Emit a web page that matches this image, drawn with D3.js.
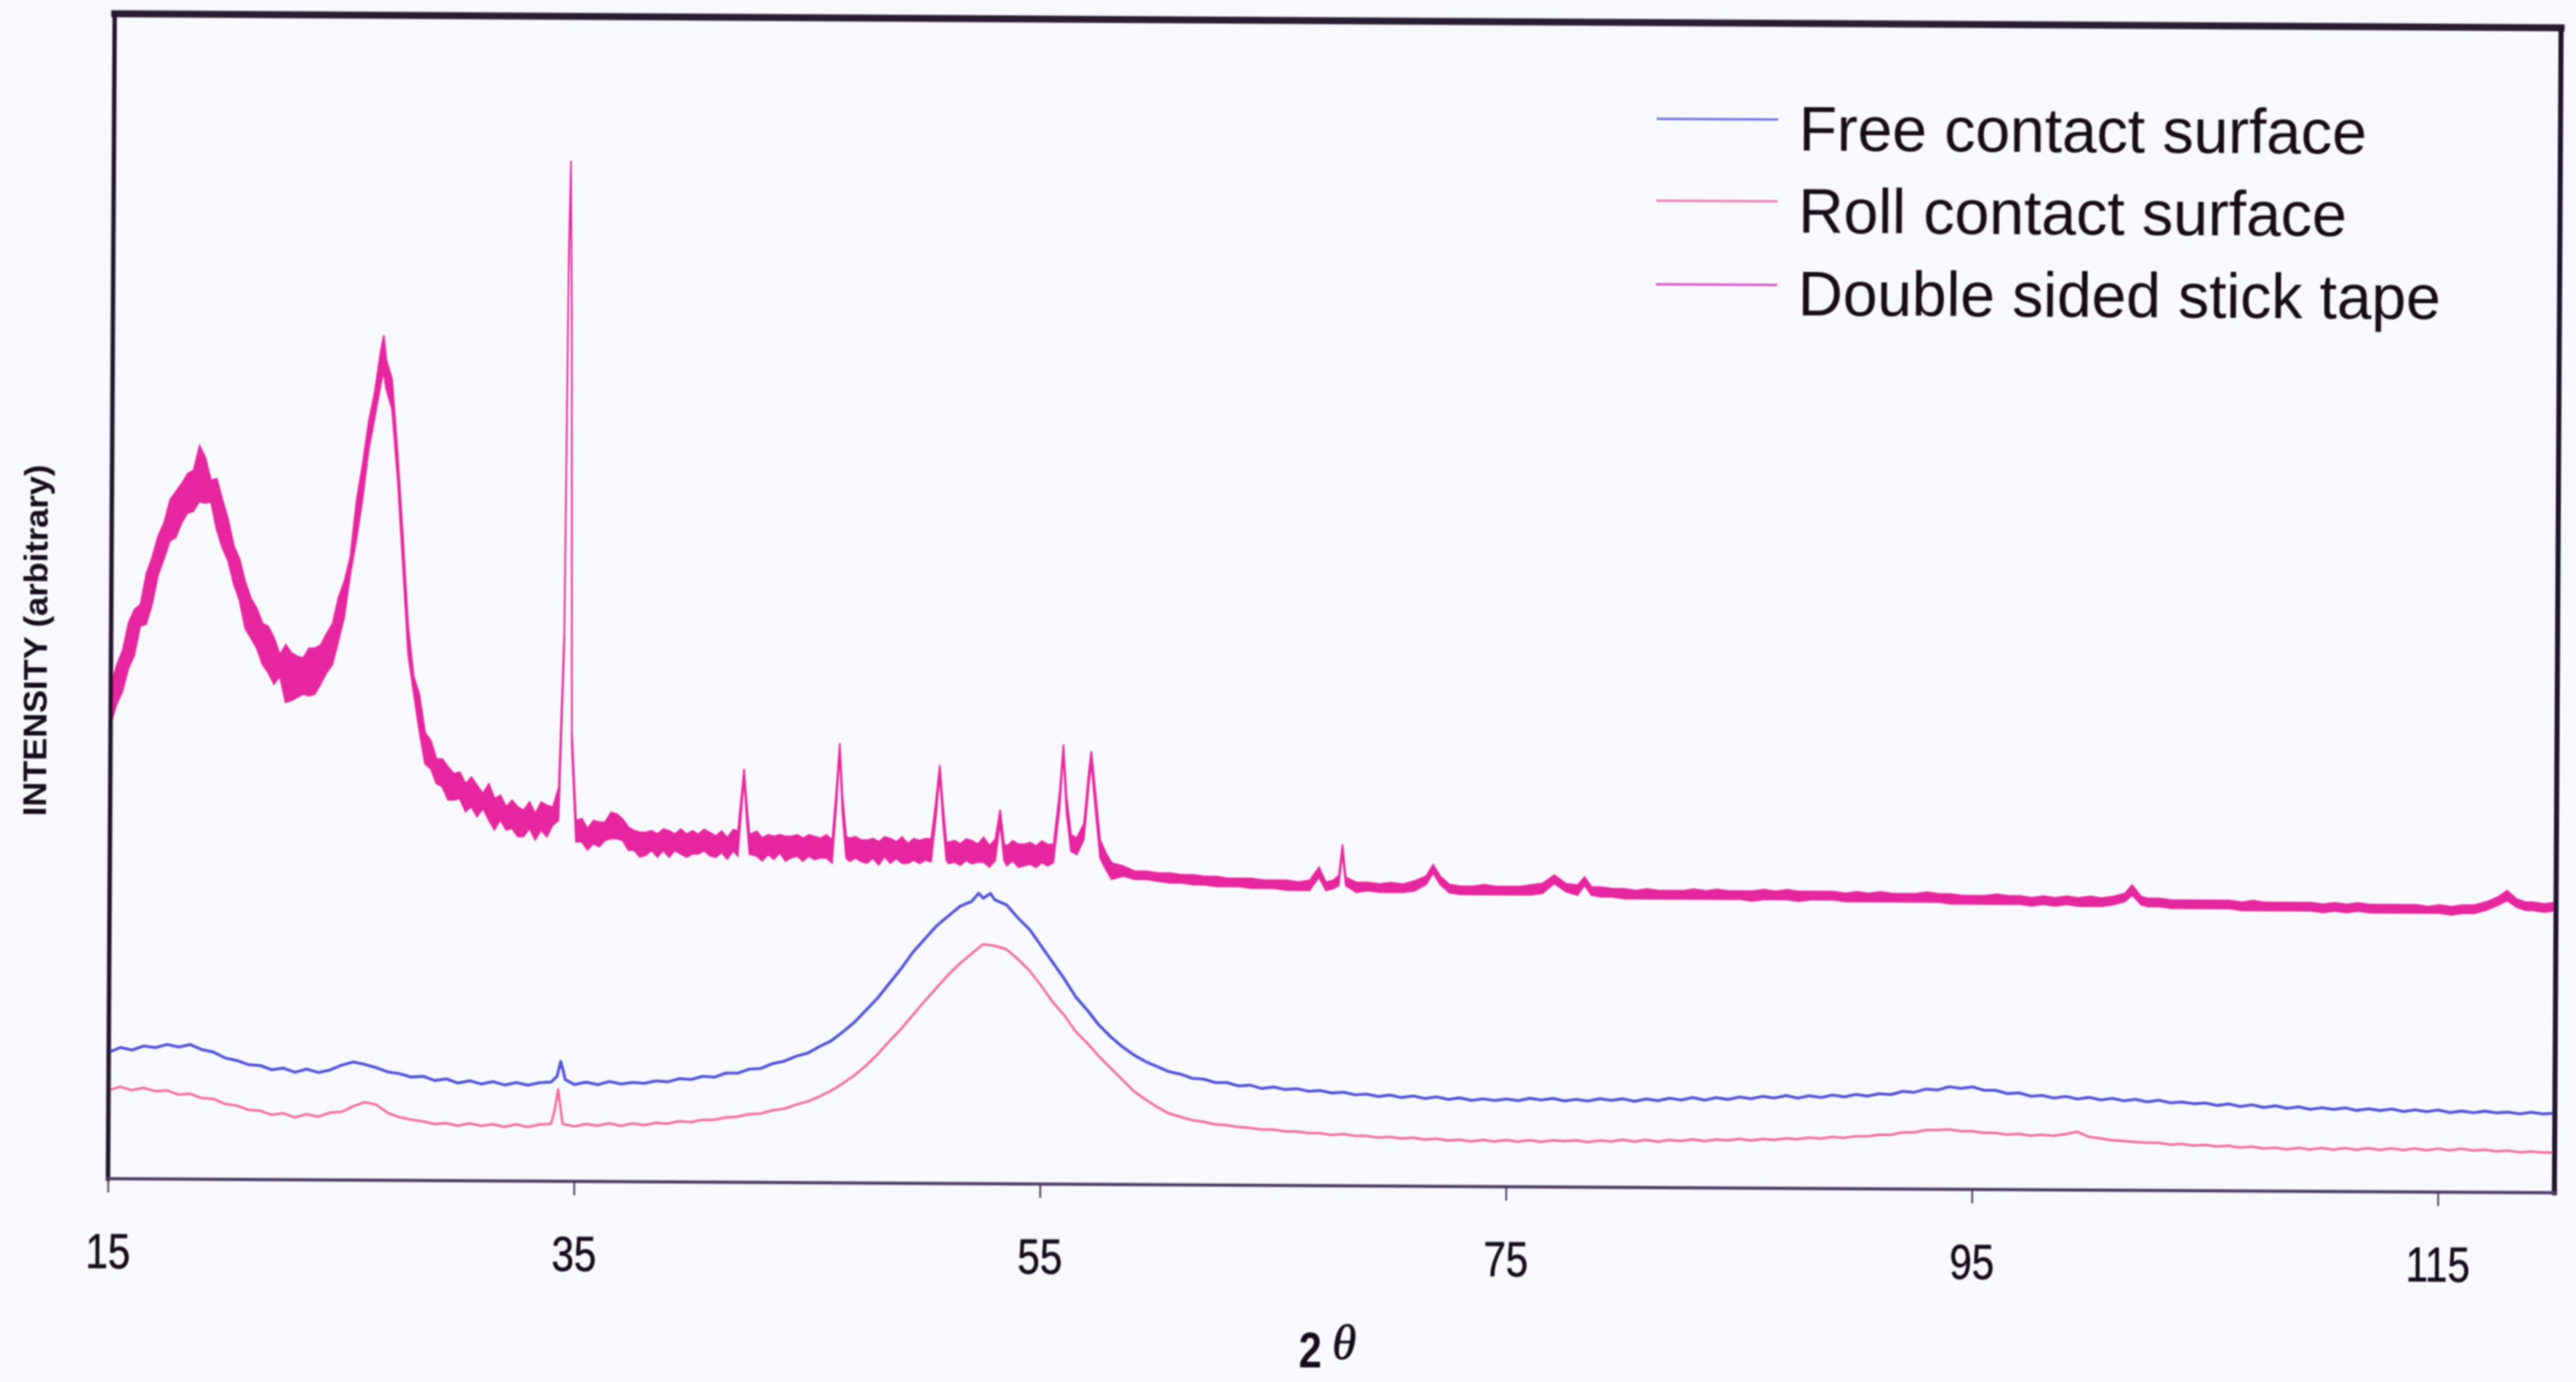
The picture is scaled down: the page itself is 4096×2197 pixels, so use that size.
<!DOCTYPE html>
<html>
<head>
<meta charset="utf-8">
<script src="https://cdn.jsdelivr.net/npm/d3@7/dist/d3.min.js"></script>
<style>
  html, body { margin: 0; padding: 0; background: #f7f9fd; }
  svg { display: block; }
</style>
</head>
<body>
<svg id="chart" width="4096" height="2197"></svg>
<script>
// ---- data -------------------------------------------------------------
const seriesNames = ["Free contact surface", "Roll contact surface", "Double sided stick tape"];

// 2-theta grid (degrees) used by the two contact-surface scans
const gridStart = 15;
const gridStep = 0.5;

// Free contact surface, intensity (arbitrary) on the 0.5 degree grid, 15 .. 120
const freeValues = [
  77, 80, 78.5, 81, 80, 82, 80.5, 82, 79, 77.5,
  74, 72.5, 70, 69.5, 67, 68, 65.5, 67.5, 65.5, 67,
  70, 72, 70.5, 68.5, 66, 65, 63, 63.5, 61, 62,
  59.5, 61, 59, 60.5, 58.5, 60, 58.5, 60, 60.5, 68,
  59, 60.5, 59, 61, 59.5, 60.5, 60, 61.5, 61, 63,
  62.5, 64.5, 64, 66.5, 66.5, 69, 69.5, 72.5, 74, 77,
  79, 83, 86.5, 92, 98, 105.5, 113, 122, 131, 141,
  149, 157, 163, 169, 172, 174, 173, 170, 162, 155,
  145, 135, 125, 114, 106, 97, 90, 84, 79, 75,
  72, 69, 67.5, 65, 64.5, 62.5, 62.5, 60.5, 61, 59,
  60, 58.5, 59, 57.5, 58, 56.5, 57, 55.5, 56, 54.5,
  55.5, 54, 55, 53.5, 54.5, 53, 54, 52.5, 53.5, 52.5,
  53.5, 52.5, 54, 53, 54, 52.5, 53.5, 52.5, 54, 53,
  54, 52.5, 54, 53, 54.5, 53.5, 55, 53.5, 55, 54,
  55.5, 54.5, 56, 55, 56.5, 55, 56.5, 55.5, 57, 56,
  57.5, 56.5, 58, 57.5, 59.5, 59, 61, 60.5, 62.5, 61.5,
  62.5, 60.5, 60.5, 58.5, 59, 57, 57.5, 56, 57, 55.5,
  56.5, 55, 56, 54.5, 55.5, 54, 55, 53.5, 54, 53,
  53.5, 52, 53, 51.5, 52.5, 51, 52, 50.5, 51.5, 50,
  51, 50, 51, 49.5, 50.5, 49.5, 50.5, 49, 50, 49,
  50, 48.5, 49.5, 48.5, 49.5, 48.5, 49, 48, 49, 48,
  48.5
];
// narrow features that fall between grid points [2-theta, intensity]
const freeExtra = [[34.25, 64], [34.4, 73], [34.6, 62], [52.3, 177], [52.8, 177]];

// Roll contact surface, intensity (arbitrary) on the 0.5 degree grid, 15 .. 120
const rollValues = [
  54, 56, 54, 55.5, 53.5, 54, 51.5, 52, 49.5, 49,
  46, 45, 42.5, 42, 39.5, 40.5, 38, 40, 38.5, 41,
  41.5, 45, 47.5, 46, 41, 38.5, 37, 36, 34.5, 35,
  33.5, 35, 33.5, 34.5, 33, 34.5, 33, 34.5, 35, 35,
  33.5, 35, 34, 35.5, 34, 35.5, 34.5, 36, 35.5, 37,
  36.5, 38, 38, 39.5, 40, 41.5, 42, 44, 45, 47.5,
  49.5, 52.5, 56, 60.5, 65.5, 71.5, 78.5, 86.5, 94, 102.5,
  111, 119, 127, 134, 140, 146, 145, 143, 137, 130,
  121, 111, 103, 93, 86, 78, 71, 64, 57, 52,
  47.5, 43.5, 41.5, 39.5, 38.5, 37, 36.5, 35.5, 35, 34,
  34, 33, 33, 32, 32, 31, 31.5, 30.5, 30.5, 29.5,
  30, 29, 29.5, 28.5, 29, 28, 28.5, 27.5, 28.5, 27.5,
  28.5, 27.5, 28.5, 27.5, 28.5, 28, 28.5, 27.5, 28.5, 28,
  29, 28, 29, 28, 29, 28.5, 29.5, 28.5, 29.5, 29,
  30, 29, 30, 29.5, 30.5, 30, 31, 30.5, 31.5, 31,
  32, 32, 33, 33, 34.5, 34.5, 36, 36, 36.5, 35.5,
  35.5, 34.5, 34.5, 33.5, 34, 33, 33.5, 33, 34, 35.5,
  32.5, 31.5, 30.5, 30, 29.5, 29, 29, 28, 28.5, 27.5,
  28, 27, 27.5, 26.5, 27, 26, 26.5, 25.5, 26.5, 25.5,
  26.5, 25.5, 26.5, 25.5, 26.5, 25.5, 26.5, 25.5, 26.5, 25.5,
  26.5, 25.5, 26.5, 25.5, 26, 25, 25.5, 24.5, 25, 24.5,
  24.5
];
const rollExtra = [[34.15, 43], [34.3, 56], [34.45, 40]];

// Double sided stick tape: the scan is very noisy, so it is kept as the
// spread of the trace at each angle: [2-theta, lowest, highest]
const tapeBand = [
  [15.00, 277, 301], [15.25, 289, 313], [15.50, 297, 322], [15.75, 311, 339],
  [16.00, 319, 347], [16.25, 337, 350], [16.50, 338, 369], [16.75, 350, 379],
  [17.00, 368, 392], [17.25, 378, 400], [17.50, 389, 414], [17.75, 391, 419],
  [18.00, 400, 424], [18.25, 406, 430], [18.50, 407, 432], [18.75, 413, 447],
  [19.00, 412, 440], [19.25, 413, 426], [19.50, 396, 427], [19.75, 385, 414],
  [20.00, 377, 402], [20.25, 363, 386], [20.50, 353, 378], [20.75, 336, 364],
  [21.00, 330, 354], [21.25, 324, 348], [21.50, 314, 339], [21.75, 309, 337],
  [22.00, 302, 330], [22.25, 307, 320], [22.50, 291, 326], [22.75, 292, 321],
  [23.00, 294, 319], [23.25, 296, 318], [23.50, 295, 324], [23.75, 296, 324],
  [24.00, 302, 326], [24.25, 309, 333], [24.50, 314, 339], [24.75, 328, 355],
  [25.00, 343, 365], [25.25, 369, 380], [25.50, 390, 414], [25.75, 414, 436],
  [26.00, 444, 462], [26.25, 464, 480], [26.50, 484, 505], [26.63, 493, 515],
  [26.75, 482, 500], [27.00, 470, 488], [27.25, 429, 444], [27.50, 376, 393],
  [27.75, 321, 338], [28.00, 297, 307], [28.25, 274, 296], [28.50, 254, 273],
  [28.75, 251, 268], [29.00, 242, 257], [29.25, 240, 257], [29.50, 232, 252],
  [29.75, 232, 248], [30.00, 233, 249], [30.25, 225, 242], [30.50, 228, 246],
  [30.75, 222, 241], [31.00, 227, 236], [31.25, 220, 242], [31.50, 214, 233],
  [31.75, 220, 235], [32.00, 214, 228], [32.25, 215, 232], [32.50, 210, 228],
  [32.75, 210, 226], [33.00, 215, 231], [33.25, 208, 224], [33.50, 214, 231],
  [33.75, 210, 229], [34.00, 217, 228], [34.25, 220, 240], [34.45, 325, 335],
  [34.55, 555, 565], [34.62, 618, 622], [34.70, 515, 525], [34.80, 265, 275],
  [35.00, 207, 220], [35.25, 207, 221], [35.50, 202, 215], [35.75, 206, 220],
  [36.00, 204, 219], [36.25, 208, 219], [36.50, 209, 225], [36.75, 209, 224],
  [37.00, 208, 221], [37.25, 202, 216], [37.50, 202, 214], [37.75, 198, 213],
  [38.00, 199, 213], [38.25, 202, 214], [38.50, 198, 212], [38.75, 202, 215],
  [39.00, 198, 214], [39.25, 202, 212], [39.50, 200, 215], [39.75, 198, 212],
  [40.00, 200, 214], [40.25, 200, 212], [40.50, 202, 215], [40.75, 199, 213],
  [41.00, 198, 211], [41.25, 201, 214], [41.50, 197, 210], [41.75, 202, 215],
  [41.95, 199, 214], [42.07, 222, 232], [42.20, 246, 252], [42.33, 220, 230],
  [42.45, 200, 212], [42.75, 199, 214], [43.00, 196, 210], [43.25, 200, 212],
  [43.50, 197, 211], [43.75, 201, 212], [44.00, 196, 211], [44.25, 198, 211],
  [44.50, 199, 212], [44.75, 196, 210], [45.00, 199, 212], [45.25, 197, 211],
  [45.50, 198, 210], [45.75, 198, 212], [46.00, 195, 209], [46.17, 230, 240],
  [46.30, 262, 268], [46.43, 226, 236], [46.60, 198, 211], [46.75, 196, 210],
  [47.00, 198, 211], [47.25, 196, 209], [47.50, 195, 209], [47.75, 198, 210],
  [48.00, 194, 208], [48.25, 199, 211], [48.50, 195, 210], [48.75, 198, 208],
  [49.00, 195, 211], [49.25, 195, 207], [49.50, 197, 210], [49.75, 195, 209],
  [50.00, 197, 210], [50.25, 196, 210], [50.45, 224, 234], [50.60, 249, 255],
  [50.75, 220, 230], [50.90, 197, 208], [51.00, 195, 208], [51.25, 196, 209],
  [51.50, 194, 207], [51.75, 197, 210], [52.00, 195, 209], [52.25, 196, 207],
  [52.50, 196, 211], [52.75, 193, 206], [53.00, 197, 210], [53.20, 220, 228],
  [53.38, 197, 207], [53.50, 194, 206], [53.75, 197, 209], [54.00, 193, 207],
  [54.25, 194, 207], [54.50, 195, 208], [54.75, 193, 206], [55.00, 196, 209],
  [55.25, 194, 207], [55.50, 196, 207], [55.75, 229, 239], [55.90, 262, 268],
  [56.05, 226, 236], [56.25, 203, 213], [56.50, 201, 211], [56.80, 210, 220],
  [57.00, 243, 252], [57.10, 257, 264], [57.25, 234, 244], [57.50, 199, 210],
  [57.75, 192, 202], [58.00, 186, 196], [58.50, 188, 194], [59.00, 186, 191],
  [59.50, 186, 191], [60.00, 185, 190], [60.50, 184, 190], [61.00, 184, 189],
  [61.50, 183, 189], [62.00, 183, 188], [62.50, 182, 188], [63.00, 182, 187],
  [63.50, 182, 187], [64.00, 181, 187], [64.50, 181, 186], [65.00, 181, 186],
  [65.50, 180, 186], [66.00, 180, 185], [66.50, 180, 186], [66.90, 188, 194],
  [67.20, 180, 185], [67.50, 181, 186], [67.75, 183, 189], [67.90, 203, 208],
  [68.05, 183, 188], [68.50, 179, 185], [69.00, 180, 185], [69.50, 179, 184],
  [70.00, 179, 185], [70.50, 179, 184], [71.00, 180, 186], [71.50, 184, 189],
  [71.80, 191, 196], [72.10, 184, 189], [72.50, 179, 184], [73.00, 178, 183],
  [73.50, 178, 183], [74.00, 178, 184], [74.50, 178, 183], [75.00, 178, 183],
  [75.50, 178, 183], [76.00, 178, 184], [76.50, 179, 185], [77.00, 185, 190],
  [77.50, 180, 185], [78.00, 178, 184], [78.30, 184, 189], [78.60, 178, 183],
  [79.00, 177, 183], [79.50, 177, 182], [80.00, 176, 182], [80.50, 176, 181],
  [81.00, 176, 182], [81.50, 176, 181], [82.00, 176, 181], [82.50, 176, 181],
  [83.00, 176, 182], [83.50, 176, 181], [84.00, 176, 182], [84.50, 176, 181],
  [85.00, 176, 181], [85.50, 175, 181], [86.00, 176, 182], [86.50, 176, 181],
  [87.00, 176, 182], [87.50, 175, 181], [88.00, 176, 181], [88.50, 176, 181],
  [89.00, 176, 181], [89.50, 175, 180], [90.00, 175, 181], [90.50, 175, 180],
  [91.00, 175, 181], [91.50, 175, 180], [92.00, 175, 180], [92.50, 175, 180],
  [93.00, 175, 181], [93.50, 175, 180], [94.00, 174, 180], [94.50, 174, 179],
  [95.00, 174, 179], [95.50, 174, 179], [96.00, 174, 180], [96.50, 174, 179],
  [97.00, 174, 179], [97.50, 173, 178], [98.00, 174, 179], [98.50, 173, 178],
  [99.00, 174, 179], [99.50, 173, 178], [100.00, 173, 179], [100.50, 173, 178],
  [101.00, 174, 179], [101.50, 176, 181], [101.80, 180, 186], [102.20, 174, 179],
  [102.50, 173, 178], [103.00, 173, 178], [103.50, 172, 177], [104.00, 172, 177],
  [104.50, 172, 177], [105.00, 172, 177], [105.50, 172, 177], [106.00, 172, 177],
  [106.50, 171, 176], [107.00, 171, 177], [107.50, 171, 176], [108.00, 171, 176],
  [108.50, 171, 176], [109.00, 171, 176], [109.50, 171, 176], [110.00, 170, 175],
  [110.50, 171, 176], [111.00, 170, 175], [111.50, 171, 176], [112.00, 170, 175],
  [112.50, 170, 175], [113.00, 170, 175], [113.50, 170, 175], [114.00, 170, 175],
  [114.50, 170, 174], [115.00, 170, 175], [115.50, 169, 174], [116.00, 170, 175],
  [116.50, 170, 175], [117.00, 172, 177], [117.50, 175, 180], [117.90, 178, 184],
  [118.30, 174, 179], [118.70, 172, 177], [119.00, 172, 177], [119.50, 171, 176],
  [120.00, 172, 177]
];

const tickValues = [15, 35, 55, 75, 95, 115];
const tickLabels = ["15", "35", "55", "75", "95", "115"];

// ---- layout ------------------------------------------------------------
const W = 4096, H = 2197;
const plot = { left: 177, right: 4067, top: 33, bottom: 1885 };
const tilt = 0.33;                       // the printed figure sits slightly rotated
const pivot = [2120, 959];

const colors = ["#5252d6", "#f0709c", "#e5289e"];
const widths = [4.6, 4, 2.5];
const legendColors = ["#7c7cea", "#f287b6", "#e060cf"];

const x = d3.scaleLinear().domain([15, 120]).range([plot.left, plot.right]);
const y = d3.scaleLinear().domain([0, 710]).range([plot.bottom, plot.top]);

function onGrid(values, extra) {
  return values.map((v, i) => [gridStart + i * gridStep, v])
    .concat(extra)
    .sort((a, b) => a[0] - b[0]);
}

const lineSeries = [
  onGrid(freeValues, freeExtra),
  onGrid(rollValues, rollExtra)
];

const svg = d3.select("#chart");

const defs = svg.append("defs");
defs.append("filter").attr("id", "soft")
  .attr("filterUnits", "userSpaceOnUse")
  .attr("x", 0).attr("y", 0).attr("width", W).attr("height", H)
  .append("feGaussianBlur").attr("stdDeviation", 0.9);

svg.append("rect").attr("width", W).attr("height", H).attr("fill", "#f7f9fd");

const g = svg.append("g")
  .attr("transform", `rotate(${tilt}, ${pivot[0]}, ${pivot[1]})`)
  .attr("filter", "url(#soft)");

// ---- traces ------------------------------------------------------------
const traces = g.append("g").attr("class", "traces");

const band = d3.area()
  .x(d => x(d[0]))
  .y0(d => y(d[1]))
  .y1(d => y(d[2]));

traces.append("path")
  .datum(tapeBand)
  .attr("d", band)
  .attr("fill", colors[2])
  .attr("stroke", colors[2])
  .attr("stroke-width", widths[2])
  .attr("stroke-linejoin", "miter");

const line = d3.line().x(d => x(d[0])).y(d => y(d[1]));

traces.selectAll("path.scan")
  .data(lineSeries)
  .join("path")
  .attr("class", "scan")
  .attr("d", line)
  .attr("fill", "none")
  .attr("stroke", (d, i) => colors[i])
  .attr("stroke-width", (d, i) => widths[i])
  .attr("stroke-linejoin", "round")
  .attr("stroke-linecap", "round");

// ---- frame -------------------------------------------------------------
const frame = g.append("g").attr("class", "frame").attr("stroke-linecap", "square");
frame.append("line")
  .attr("x1", plot.left).attr("x2", plot.right)
  .attr("y1", plot.top).attr("y2", plot.top)
  .attr("stroke", "#2a1a32").attr("stroke-width", 11);
frame.append("line")
  .attr("x1", plot.left).attr("x2", plot.left)
  .attr("y1", plot.top).attr("y2", plot.bottom)
  .attr("stroke", "#24162e").attr("stroke-width", 7);
frame.append("line")
  .attr("x1", plot.right).attr("x2", plot.right)
  .attr("y1", plot.top).attr("y2", plot.bottom)
  .attr("stroke", "#24162e").attr("stroke-width", 8);
frame.append("line")
  .attr("x1", plot.left).attr("x2", plot.right)
  .attr("y1", plot.bottom).attr("y2", plot.bottom)
  .attr("stroke", "#4e3c66").attr("stroke-width", 5);

// ---- x axis ------------------------------------------------------------
const axis = d3.axisBottom(x)
  .tickValues(tickValues)
  .tickSize(22)
  .tickFormat((d, i) => tickLabels[i]);

const ax = g.append("g")
  .attr("transform", `translate(0, ${plot.bottom})`)
  .call(axis);
ax.select(".domain").remove();
ax.selectAll(".tick line")
  .attr("stroke", "#3a2c4c")
  .attr("stroke-width", 2.5);
ax.selectAll(".tick text")
  .attr("y", null).attr("dy", null)
  .attr("transform", "translate(0, 142) scale(0.82, 1)")
  .attr("text-anchor", "middle")
  .attr("fill", "#160e1e")
  .attr("stroke", "#160e1e").attr("stroke-width", 0.8)
  .attr("font-family", "'Liberation Sans', Arial, sans-serif")
  .attr("font-size", 78);

// axis titles
const xTitle = g.append("g").attr("class", "x-title").attr("fill", "#140c1c");
xTitle.append("text")
  .attr("transform", "translate(2072, 2174) scale(0.82, 1)")
  .attr("font-family", "'Liberation Sans', Arial, sans-serif")
  .attr("font-weight", "bold")
  .attr("font-size", 80)
  .text("2");
xTitle.append("text")
  .attr("transform", "translate(2125, 2160)")
  .attr("font-family", "'Liberation Serif', 'DejaVu Serif', serif")
  .attr("font-style", "italic")
  .attr("font-size", 78)
  .attr("stroke", "#140c1c").attr("stroke-width", 1)
  .text("θ");

g.append("text")
  .attr("class", "y-title")
  .attr("transform", "translate(57, 1030) rotate(-90)")
  .attr("text-anchor", "middle")
  .attr("dy", "0.35em")
  .attr("font-family", "'Liberation Sans', Arial, sans-serif")
  .attr("font-weight", "bold")
  .attr("font-size", 52)
  .attr("textLength", 559)
  .attr("lengthAdjust", "spacingAndGlyphs")
  .attr("fill", "#140c1c")
  .text("INTENSITY (arbitrary)");

// ---- legend ------------------------------------------------------------
const legendRows = [186, 316, 449];
const legendBaselines = [235, 366, 497];
const legendTextWidths = [903, 872, 1022];

const legend = g.append("g").attr("class", "legend")
  .selectAll("g")
  .data(seriesNames)
  .join("g");
legend.append("line")
  .attr("x1", 2630).attr("x2", 2823)
  .attr("y1", (d, i) => legendRows[i]).attr("y2", (d, i) => legendRows[i])
  .attr("stroke", (d, i) => legendColors[i])
  .attr("stroke-width", 4);
legend.append("text")
  .attr("x", 2856)
  .attr("y", (d, i) => legendBaselines[i])
  .attr("font-family", "'Liberation Sans', Arial, sans-serif")
  .attr("font-size", 101)
  .attr("textLength", (d, i) => legendTextWidths[i])
  .attr("lengthAdjust", "spacingAndGlyphs")
  .attr("fill", "#120a18")
  .text(d => d);
</script>
</body>
</html>
